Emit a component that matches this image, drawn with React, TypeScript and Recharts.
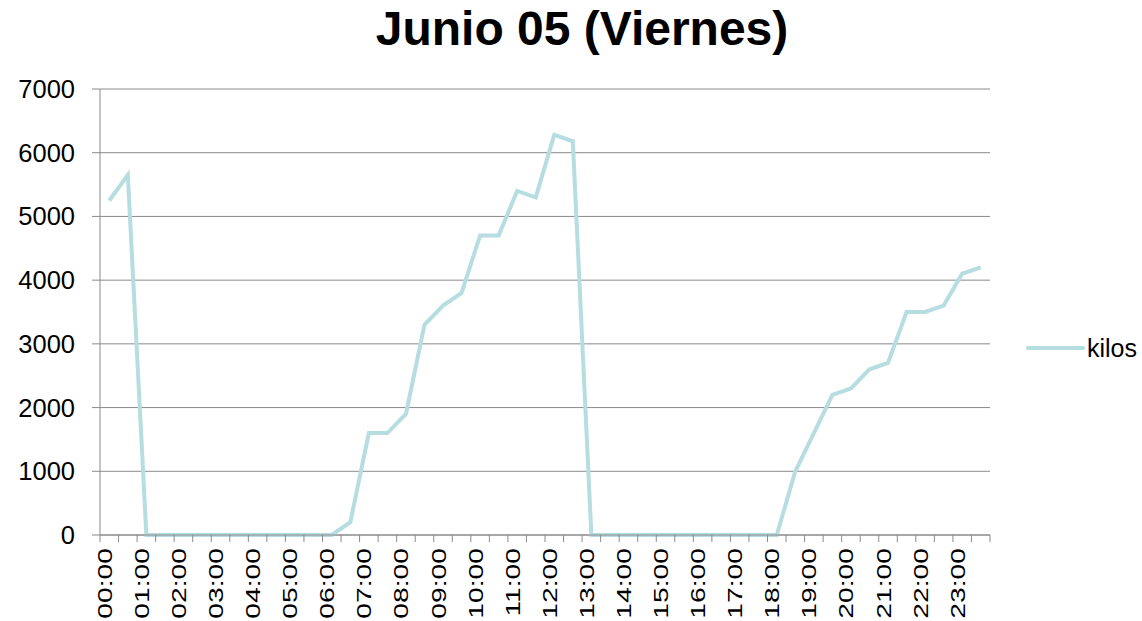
import React from "react";
import { LineChart, Line, XAxis, YAxis, CartesianGrid, Legend } from "recharts";

const horas = [
  "00:00", "00:30", "01:00", "01:30", "02:00", "02:30", "03:00", "03:30",
  "04:00", "04:30", "05:00", "05:30", "06:00", "06:30", "07:00", "07:30",
  "08:00", "08:30", "09:00", "09:30", "10:00", "10:30", "11:00", "11:30",
  "12:00", "12:30", "13:00", "13:30", "14:00", "14:30", "15:00", "15:30",
  "16:00", "16:30", "17:00", "17:30", "18:00", "18:30", "19:00", "19:30",
  "20:00", "20:30", "21:00", "21:30", "22:00", "22:30", "23:00", "23:30",
];

const kilos = [
  5250, 5650, 0, 0, 0, 0, 0, 0,
  0, 0, 0, 0, 0, 200, 1600, 1600,
  1900, 3300, 3600, 3800, 4700, 4700, 5400, 5300,
  6280, 6180, 0, 0, 0, 0, 0, 0,
  0, 0, 0, 0, 0, 1000, 1600, 2200,
  2300, 2600, 2700, 3500, 3500, 3600, 4100, 4200,
];

const yTicks = [0, 1000, 2000, 3000, 4000, 5000, 6000, 7000];

const titulo = "Junio 05 (Viernes)";
const serie = "kilos";

const data = horas.map((hora, i) => ({ hora, kilos: kilos[i] }));

const FONT = "'Liberation Sans', Arial, sans-serif";
const GRIS = "#8a8a8a";
const TEAL = "#b6dde0";

// ticks between the categories, labels only on the full hours
function HoraTick(props: any) {
  const { x, y, payload, index, width, visibleTicksCount } = props;
  const count = visibleTicksCount || horas.length;
  const half = (width || 890) / count / 2;
  return (
    <g>
      <line x1={x - half} x2={x - half} y1={y} y2={y + 7} stroke={GRIS} />
      {index === count - 1 && (
        <line x1={x + half} x2={x + half} y1={y} y2={y + 7} stroke={GRIS} />
      )}
      {index % 2 === 0 && (
        <text
          transform={`translate(${x + 2.5},${y + 13}) rotate(-90) scale(1.45,1)`}
          textAnchor="end"
          fontSize={19.5}
          fontFamily={FONT}
          fill="#000"
        >
          {payload.value}
        </text>
      )}
    </g>
  );
}

function LeyendaKilos() {
  return (
    <div
      style={{
        display: "flex",
        alignItems: "center",
        height: 30,
        fontFamily: FONT,
        fontSize: 25,
        color: "#000",
      }}
    >
      <svg width={59} height={8}>
        <line x1={2} x2={57} y1={4} y2={4} stroke={TEAL} strokeWidth={4} strokeLinecap="round" />
      </svg>
      <span style={{ marginLeft: 2 }}>{serie}</span>
    </div>
  );
}

export default function App() {
  return (
    <div style={{ position: "absolute", left: 0, top: 0, width: 1142, height: 621, background: "#fff" }}>
      <svg style={{ position: "absolute", left: 0, top: 0 }} width={1142} height={60}>
        <text x={582} y={45} textAnchor="middle" fontSize={48} fontWeight="bold" fontFamily={FONT} fill="#000">
          {titulo}
        </text>
      </svg>
      <LineChart
        width={1142}
        height={621}
        data={data}
        margin={{ top: 89, right: 152, bottom: 0, left: 0 }}
        style={{ position: "absolute", left: 0, top: 0 }}
      >
        <CartesianGrid vertical={false} stroke={GRIS} strokeWidth={1} />
        <XAxis
          dataKey="hora"
          scale="band"
          interval={0}
          height={86}
          tickSize={0}
          tickMargin={0}
          tickLine={false}
          axisLine={{ stroke: GRIS }}
          tick={<HoraTick />}
        />
        <YAxis
          width={100}
          domain={[0, 7000]}
          ticks={yTicks}
          interval={0}
          tickSize={8}
          tickMargin={17}
          axisLine={{ stroke: GRIS }}
          tickLine={{ stroke: GRIS }}
          tick={{ fontSize: 25.5, fill: "#000", fontFamily: FONT }}
        />
        <Legend
          layout="vertical"
          align="center"
          verticalAlign="middle"
          content={<LeyendaKilos />}
          wrapperStyle={{ left: 1026, top: 333, width: 116 }}
        />
        <Line
          type="linear"
          dataKey="kilos"
          name={serie}
          stroke={TEAL}
          strokeWidth={4}
          dot={false}
          activeDot={false}
          isAnimationActive={false}
        />
      </LineChart>
    </div>
  );
}
